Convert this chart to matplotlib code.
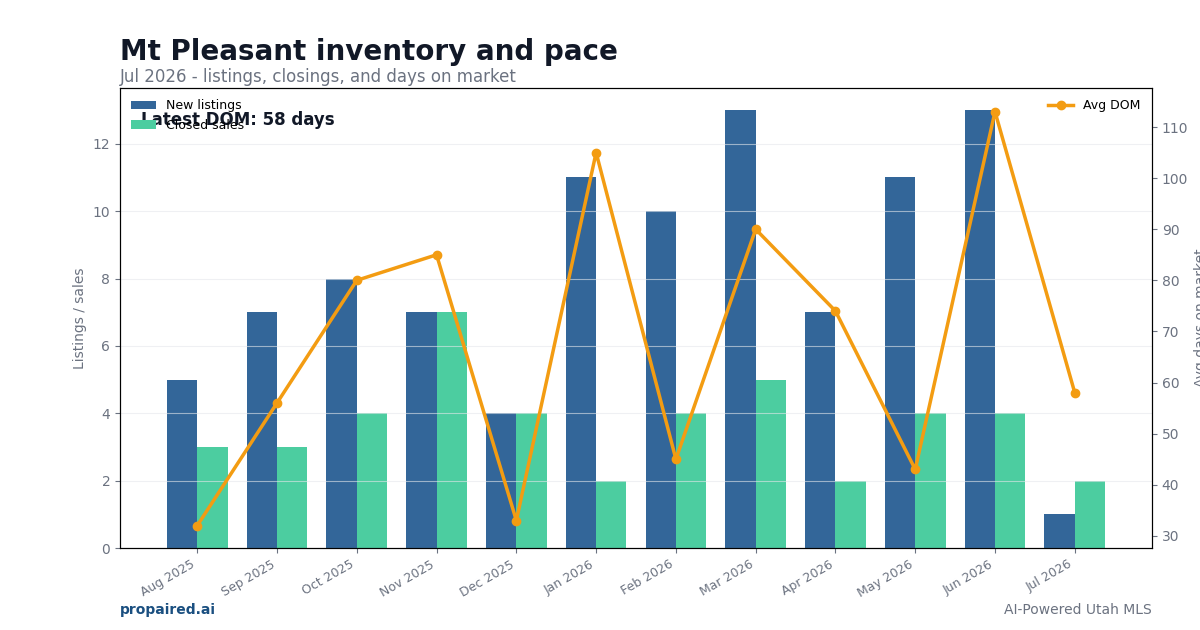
import numpy as np
import matplotlib
matplotlib.use("Agg")
import matplotlib.pyplot as plt

months = ['Aug 2025', 'Sep 2025', 'Oct 2025', 'Nov 2025', 'Dec 2025', 'Jan 2026',
          'Feb 2026', 'Mar 2026', 'Apr 2026', 'May 2026', 'Jun 2026', 'Jul 2026']
new_listings = [5, 7, 8, 7, 4, 11, 10, 13, 7, 11, 13, 1]
closed_sales = [3, 3, 4, 7, 4, 2, 4, 5, 2, 4, 4, 2]
avg_dom = [32, 56, 80, 85, 33, 105, 45, 90, 74, 43, 113, 58]

gray = '#6b7280'
dark = '#111827'

fig = plt.figure(figsize=(12, 6.3), dpi=100)
ax = fig.add_axes([0.1, 0.13, 0.86, 0.73])
ax2 = ax.twinx()

x = np.arange(len(months))
w = 0.38
ax.bar(x - w / 2, new_listings, w, color='#336699', label='New listings')
ax.bar(x + w / 2, closed_sales, w, color='#4ccda0', label='Closed sales')
ax2.plot(x, avg_dom, color='#f39c12', lw=2.5, marker='o', ms=6, label='Avg DOM')

ax.set_ylim(0, max(new_listings) * 1.05)
ax2.set_ylim(27.6, 117.6)
ax.set_xticks(x)
ax.set_xticklabels(months, rotation=30, ha='right', fontsize=9, color=gray)
ax.tick_params(axis='y', labelsize=10, colors=gray)
ax.tick_params(axis='x', colors=gray)
ax2.tick_params(axis='y', labelsize=10, colors=gray)
ax.grid(axis='y', color='#e5e7eb', alpha=0.6, lw=0.8)
ax.set_ylabel('Listings / sales', color=gray, fontsize=10)
ax2.set_ylabel('Avg days on market', color=gray, fontsize=10)

ax.legend(loc='upper left', fontsize=9, frameon=False)
ax2.legend(loc='upper right', fontsize=9, frameon=False)
ax.text(0.02, 0.93, 'Latest DOM: 58 days', transform=ax.transAxes, fontsize=12,
        fontweight='bold', color=dark, va='center')

fig.text(0.1, 0.918, 'Mt Pleasant inventory and pace', fontsize=20, fontweight='bold',
         color=dark, va='center')
fig.text(0.1, 0.877, 'Jul 2026 - listings, closings, and days on market', fontsize=12,
         color=gray, va='center')
fig.text(0.1, 0.032, 'propaired.ai', fontsize=10, fontweight='bold', color='#1a4f80', va='center')
fig.text(0.96, 0.032, 'AI-Powered Utah MLS', fontsize=10, color=gray, va='center', ha='right')

fig.savefig('out.png', dpi=100)
